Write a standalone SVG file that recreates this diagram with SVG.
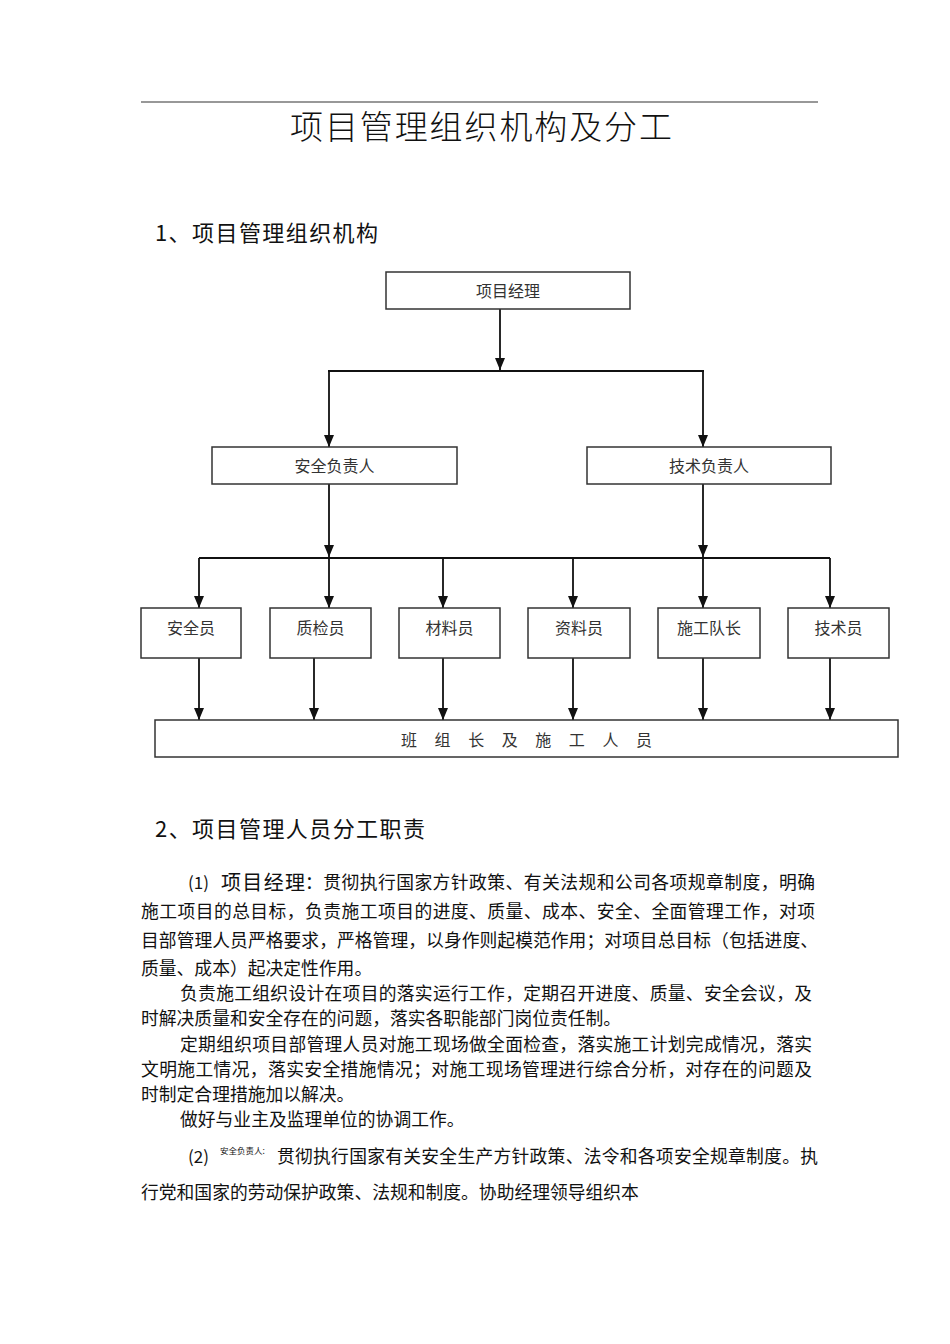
<svg xmlns="http://www.w3.org/2000/svg" width="950" height="1344" viewBox="0 0 950 1344">
<style>
text{font-family:"Noto Sans CJK SC","Liberation Sans",sans-serif;fill:#111}
.box rect{fill:#fff;stroke:#333;stroke-width:1.5}
.box text{font-size:16px;fill:#333;text-anchor:middle}
.c line{stroke:#111;stroke-width:1.8}
.p{font-size:17.8px}
</style>
<defs>
<marker id="ah" viewBox="0 0 12 10" refX="12" refY="5" markerWidth="12" markerHeight="10" markerUnits="userSpaceOnUse" orient="auto">
<path d="M0,0 L12,5 L0,10 Z" fill="#111"/>
</marker>
</defs>
<rect width="950" height="1344" fill="#fff"/>
<line x1="141" y1="102" x2="818" y2="102" stroke="#333" stroke-width="1.2"/>
<text x="290" y="139" font-size="33" font-weight="300" fill="#222" textLength="382" lengthAdjust="spacing">项目管理组织机构及分工</text>
<text x="155" y="241" font-size="22" textLength="223" lengthAdjust="spacing">1、项目管理组织机构</text>

<g class="c">
<line x1="500" y1="309" x2="500" y2="370" marker-end="url(#ah)"/>
<line x1="328" y1="371" x2="704" y2="371" stroke-width="2.6"/>
<line x1="329" y1="371" x2="329" y2="447" marker-end="url(#ah)"/>
<line x1="703" y1="371" x2="703" y2="447" marker-end="url(#ah)"/>
<line x1="329" y1="484" x2="329" y2="557" marker-end="url(#ah)"/>
<line x1="703" y1="484" x2="703" y2="557" marker-end="url(#ah)"/>
<line x1="199" y1="558" x2="830" y2="558"/>
<line x1="199" y1="558" x2="199" y2="608" marker-end="url(#ah)"/>
<line x1="329" y1="558" x2="329" y2="608" marker-end="url(#ah)"/>
<line x1="443" y1="558" x2="443" y2="608" marker-end="url(#ah)"/>
<line x1="573" y1="558" x2="573" y2="608" marker-end="url(#ah)"/>
<line x1="703" y1="558" x2="703" y2="608" marker-end="url(#ah)"/>
<line x1="830" y1="558" x2="830" y2="608" marker-end="url(#ah)"/>
<line x1="199" y1="658" x2="199" y2="720" marker-end="url(#ah)"/>
<line x1="314" y1="658" x2="314" y2="720" marker-end="url(#ah)"/>
<line x1="443" y1="658" x2="443" y2="720" marker-end="url(#ah)"/>
<line x1="573" y1="658" x2="573" y2="720" marker-end="url(#ah)"/>
<line x1="703" y1="658" x2="703" y2="720" marker-end="url(#ah)"/>
<line x1="830" y1="658" x2="830" y2="720" marker-end="url(#ah)"/>
</g>

<g id="n-pm" class="box"><rect x="386" y="272" width="244" height="37"/><text x="508" y="297">项目经理</text></g>
<g id="n-safe-lead" class="box"><rect x="212" y="447" width="245" height="37"/><text x="334.5" y="472">安全负责人</text></g>
<g id="n-tech-lead" class="box"><rect x="587" y="447" width="244" height="37"/><text x="709" y="472">技术负责人</text></g>
<g id="n-safety" class="box"><rect x="141" y="608" width="100" height="50"/><text x="191" y="634">安全员</text></g>
<g id="n-qc" class="box"><rect x="270" y="608" width="101" height="50"/><text x="320.5" y="634">质检员</text></g>
<g id="n-mat" class="box"><rect x="399" y="608" width="101" height="50"/><text x="449.5" y="634">材料员</text></g>
<g id="n-doc" class="box"><rect x="528" y="608" width="102" height="50"/><text x="579" y="634">资料员</text></g>
<g id="n-captain" class="box"><rect x="658" y="608" width="102" height="50"/><text x="709" y="634">施工队长</text></g>
<g id="n-tech" class="box"><rect x="788" y="608" width="101" height="50"/><text x="838.5" y="634">技术员</text></g>
<g id="n-team" class="box"><rect x="155" y="720" width="743" height="37"/><text x="401" y="746" style="text-anchor:start" textLength="251" lengthAdjust="spacing">班 组 长 及 施 工 人 员</text></g>

<text x="155" y="837" font-size="22" textLength="270" lengthAdjust="spacing">2、项目管理人员分工职责</text>

<g id="para">
<text x="188" y="889" font-size="17">(1)</text>
<text x="221" y="890" font-size="20" textLength="84" lengthAdjust="spacing">项目经理</text>
<text class="p" x="305" y="889" textLength="510" lengthAdjust="spacing">：贯彻执行国家方针政策、有关法规和公司各项规章制度，明确</text>
<text class="p" x="141" y="918" textLength="674" lengthAdjust="spacing">施工项目的总目标，负责施工项目的进度、质量、成本、安全、全面管理工作，对项</text>
<text class="p" x="141" y="947" textLength="677" lengthAdjust="spacing">目部管理人员严格要求，严格管理，以身作则起模范作用；对项目总目标（包括进度、</text>
<text class="p" x="141" y="975">质量、成本）起决定性作用。</text>
<text class="p" x="180" y="1000" textLength="632" lengthAdjust="spacing">负责施工组织设计在项目的落实运行工作，定期召开进度、质量、安全会议，及</text>
<text class="p" x="141" y="1025">时解决质量和安全存在的问题，落实各职能部门岗位责任制。</text>
<text class="p" x="180" y="1051" textLength="632" lengthAdjust="spacing">定期组织项目部管理人员对施工现场做全面检查，落实施工计划完成情况，落实</text>
<text class="p" x="141" y="1076" textLength="671" lengthAdjust="spacing">文明施工情况，落实安全措施情况；对施工现场管理进行综合分析，对存在的问题及</text>
<text class="p" x="141" y="1101">时制定合理措施加以解决。</text>
<text class="p" x="180" y="1126">做好与业主及监理单位的协调工作。</text>
<text x="188" y="1163" font-size="17">(2)</text>
<text x="220" y="1154" font-size="8.5">安全负责人:</text>
<text class="p" x="277" y="1163" textLength="541" lengthAdjust="spacing">贯彻执行国家有关安全生产方针政策、法令和各项安全规章制度。执</text>
<text class="p" x="141" y="1199">行党和国家的劳动保护政策、法规和制度。协助经理领导组织本</text>
</g>
</svg>
